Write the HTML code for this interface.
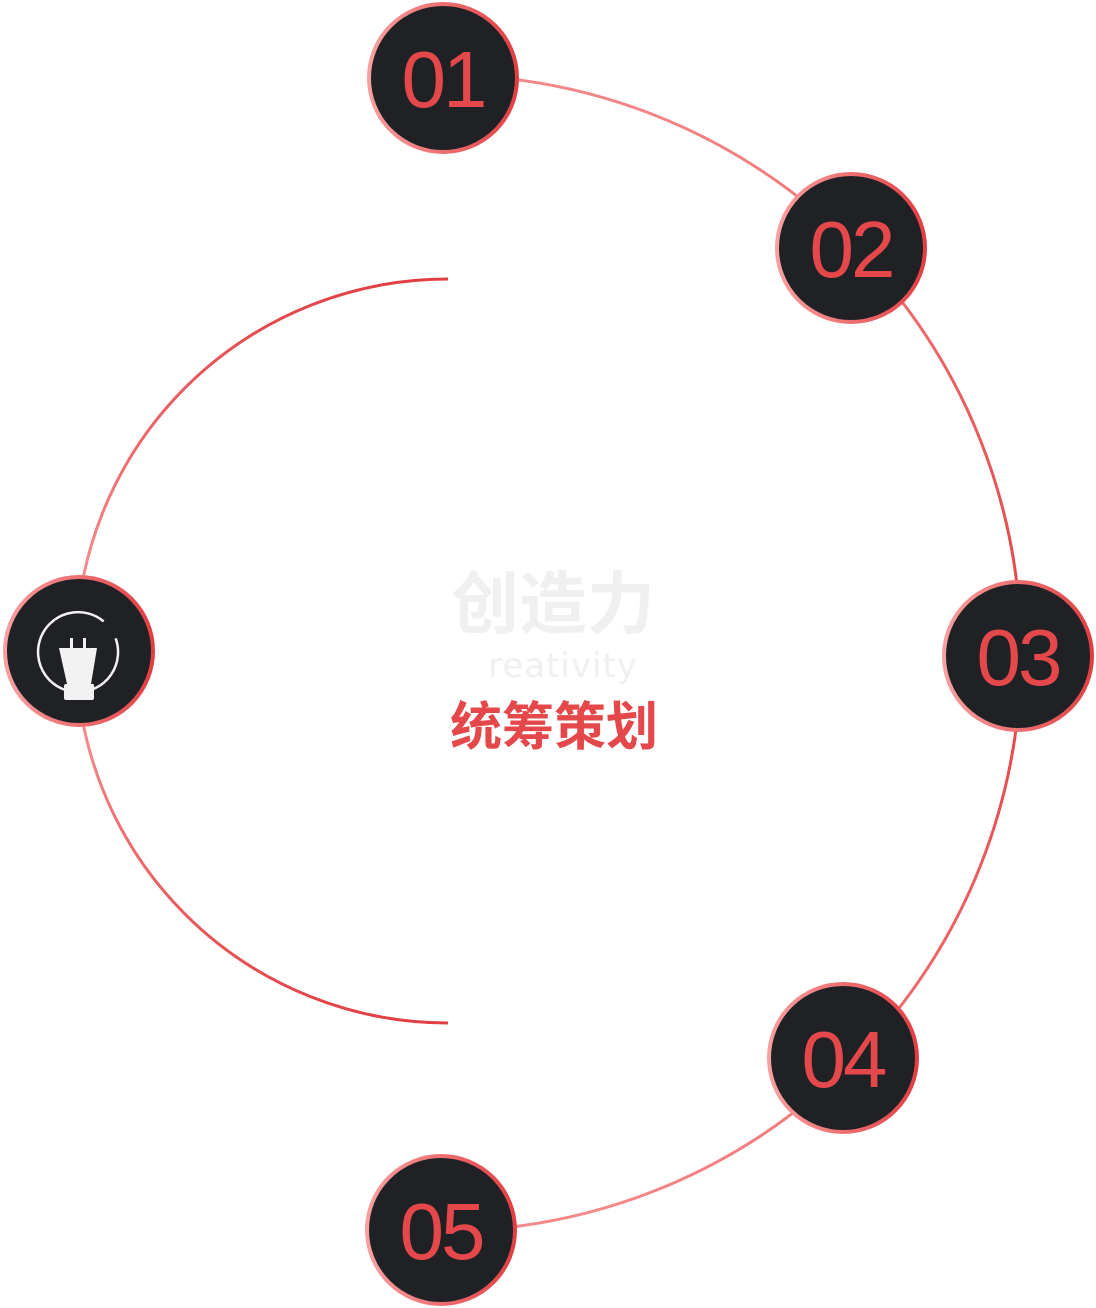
<!DOCTYPE html>
<html><head><meta charset="utf-8"><style>
html,body{margin:0;padding:0;background:#fff;}
svg{display:block;}
</style></head><body>
<svg width="1096" height="1308" viewBox="0 0 1096 1308" xmlns="http://www.w3.org/2000/svg">
<defs>
<linearGradient id="rg" x1="0" y1="0" x2="0" y2="1">
<stop offset="0" stop-color="#f48a8a"/><stop offset="0.5" stop-color="#e23e42"/><stop offset="1" stop-color="#f48a8a"/>
</linearGradient>
<linearGradient id="lg" x1="0" y1="0" x2="0" y2="1">
<stop offset="0" stop-color="#e23e42"/><stop offset="0.5" stop-color="#f8a0a0"/><stop offset="1" stop-color="#e23e42"/>
</linearGradient>
<linearGradient id="bg" x1="0" y1="0" x2="1" y2="0">
<stop offset="0" stop-color="#f8a0a0"/><stop offset="1" stop-color="#e23e42"/>
</linearGradient>
</defs>
<path d="M443,75 A578,578 0 0 1 1021,653 A578,578 0 0 1 443,1231" fill="none" stroke="url(#rg)" stroke-width="3"/>
<path d="M448,279 A372,372 0 0 0 448,1023" fill="none" stroke="url(#lg)" stroke-width="3"/>
<g font-family="Liberation Sans, sans-serif" font-size="80" fill="#e5484a" text-anchor="middle" letter-spacing="-3">
<circle cx="443" cy="78" r="74" fill="#202125" stroke="url(#bg)" stroke-width="4"/>
<text x="443" y="107">01</text>
<circle cx="851" cy="248" r="74" fill="#202125" stroke="url(#bg)" stroke-width="4"/>
<text x="851" y="277">02</text>
<circle cx="1018" cy="656" r="74" fill="#202125" stroke="url(#bg)" stroke-width="4"/>
<text x="1018" y="685">03</text>
<circle cx="843" cy="1058" r="74" fill="#202125" stroke="url(#bg)" stroke-width="4"/>
<text x="843" y="1087">04</text>
<circle cx="441" cy="1230" r="74" fill="#202125" stroke="url(#bg)" stroke-width="4"/>
<text x="441" y="1259">05</text>
</g>
<circle cx="79" cy="651" r="74" fill="#202125" stroke="url(#bg)" stroke-width="4"/>
<path d="M103.7,621.4 A40,40 0 1 0 115.6,638.3" fill="none" stroke="#f2f2f2" stroke-width="2.5"/>
<path d="M59,648 L97,648 L91,684 L93,684 Q94,684 94,686 L94,698 Q94,700 92,700 L66,700 Q64,700 64,698 L64,686 Q64,684 66,684 L67,684 Z" fill="#f2f2f2"/>
<rect x="70" y="638" width="3" height="11" fill="#f2f2f2"/>
<rect x="83" y="638" width="3" height="11" fill="#f2f2f2"/>
<text x="553" y="628" text-anchor="middle" font-family="Liberation Sans, Noto Sans CJK SC, sans-serif" font-size="68" font-weight="bold" fill="#f0f0f0">创造力</text>
<text x="563" y="677" text-anchor="middle" font-family="DejaVu Sans, sans-serif" font-size="34" fill="#f0f0f0" letter-spacing="1">reativity</text>
<text x="554" y="745" text-anchor="middle" font-family="Liberation Sans, Noto Sans CJK SC, sans-serif" font-size="52" font-weight="bold" fill="#e5484a">统筹策划</text>
</svg>
</body></html>
